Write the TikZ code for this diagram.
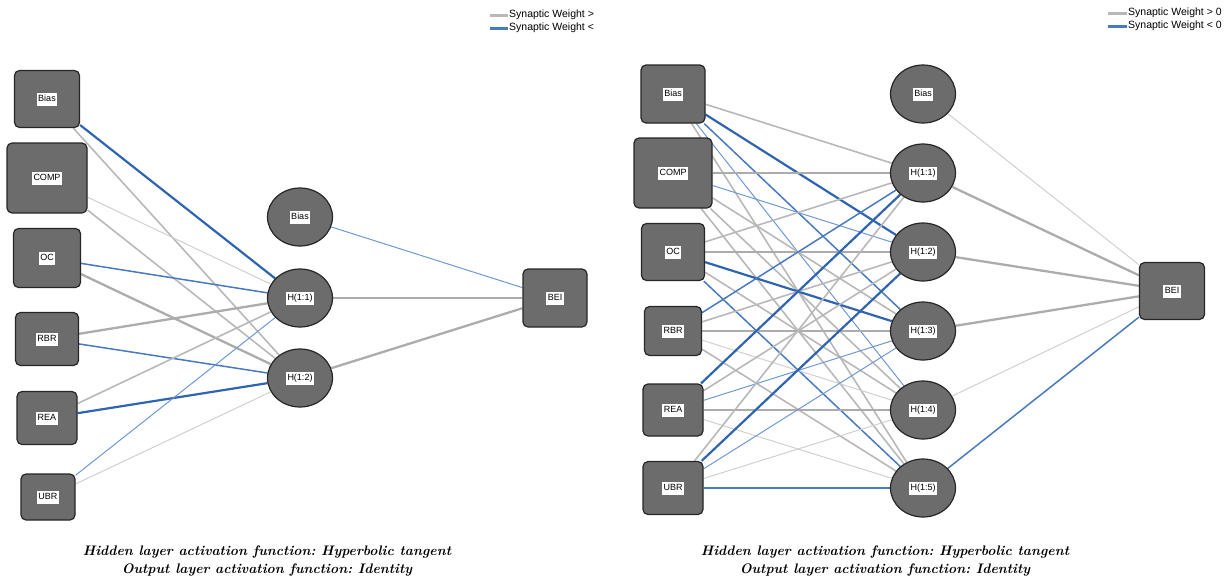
\documentclass[tikz,border=0pt]{standalone}
\usepackage{fontspec}
\newfontfamily\arial{Liberation Sans}
\usetikzlibrary{shapes.geometric}
\pgfdeclarelayer{bg}
\pgfsetlayers{bg,main}
\frenchspacing

\definecolor{nodegray}{RGB}{108,108,108}
\definecolor{posthin}{RGB}{208,208,208}
\definecolor{posmid}{RGB}{184,184,184}
\definecolor{posthick}{RGB}{172,172,172}
\definecolor{negthin}{RGB}{110,152,214}
\definecolor{negmid}{RGB}{72,122,192}
\definecolor{negthick}{RGB}{46,100,176}

% white tag holding a node's name
\newcommand{\tagbox}[1]{{\setlength{\fboxsep}{1.5pt}\colorbox{white}{\arial\fontsize{9}{10}\selectfont\strut #1}}}

\begin{document}
\begin{tikzpicture}[x=1pt,y=-1pt,
  inbox/.style={rectangle, draw=black!85, line width=1.2pt, fill=nodegray, rounded corners=5pt, inner sep=0pt},
  hid/.style={ellipse, draw=black!85, line width=1.2pt, fill=nodegray, minimum width=65pt, minimum height=58pt, inner sep=0pt},
  p1/.style={draw=posthin, line width=1pt},
  p2/.style={draw=posmid, line width=1.6pt},
  p3/.style={draw=posthick, line width=2.3pt},
  n1/.style={draw=negthin, line width=1pt},
  n2/.style={draw=negmid, line width=1.5pt},
  n3/.style={draw=negthick, line width=2.2pt},
  legtext/.style={anchor=west, inner sep=1pt, font=\arial\fontsize{10.5}{11}\selectfont},
  caption/.style={align=center, font=\fontsize{13.8}{17.5}\selectfont\bfseries\itshape}
]
\useasboundingbox (0,0) rectangle (1229,584);

% ---------------- first network ----------------
\node[inbox, minimum width=65pt, minimum height=57pt] (Lbias) at (47,99)  {\tagbox{Bias}};
\node[inbox, minimum width=80pt, minimum height=70pt] (Lcomp) at (47,178) {\tagbox{COMP}};
\node[inbox, minimum width=67pt, minimum height=59pt] (Loc)   at (47,258) {\tagbox{OC}};
\node[inbox, minimum width=63pt, minimum height=53pt] (Lrbr)  at (47,339) {\tagbox{RBR}};
\node[inbox, minimum width=60pt, minimum height=53pt] (Lrea)  at (47,418) {\tagbox{REA}};
\node[inbox, minimum width=54pt, minimum height=46pt] (Lubr)  at (48,497) {\tagbox{UBR}};

\node[hid] (LhB) at (300,217) {\tagbox{Bias}};
\node[hid] (Lh1) at (300,298) {\tagbox{H(1:1)}};
\node[hid] (Lh2) at (300,378) {\tagbox{H(1:2)}};

\node[inbox, minimum width=64pt, minimum height=58pt] (Lout) at (555,298) {\tagbox{BEI}};

\begin{pgfonlayer}{bg}
  \draw[n3] (Lbias) -- (Lh1);
  \draw[p2] (Lbias) -- (Lh2);
  \draw[p1] (Lcomp) -- (Lh1);
  \draw[p2] (Lcomp) -- (Lh2);
  \draw[n2] (Loc) -- (Lh1);
  \draw[p3] (Loc) -- (Lh2);
  \draw[p3] (Lrbr) -- (Lh1);
  \draw[n2] (Lrbr) -- (Lh2);
  \draw[p2] (Lrea) -- (Lh1);
  \draw[n3] (Lrea) -- (Lh2);
  \draw[n1] (Lubr) -- (Lh1);
  \draw[p1] (Lubr) -- (Lh2);
  \draw[n1] (LhB) -- (Lout);
  \draw[p3] (Lh1) -- (Lout);
  \draw[p3] (Lh2) -- (Lout);
\end{pgfonlayer}

% legend
\coordinate (lgLa1) at (490,15); \coordinate (lgLb1) at (508,15);
\coordinate (lgLa2) at (490,28); \coordinate (lgLb2) at (508,28);
\draw[draw=posmid, line width=3pt] (lgLa1) -- (lgLb1);
\draw[draw=negmid, line width=3pt] (lgLa2) -- (lgLb2);
\node[legtext] (lgLt1) at (lgLb1) {Synaptic Weight >};
\node[legtext] (lgLt2) at (lgLb2) {Synaptic Weight <};

\node[caption] (capL) at (267,561) {Hidden layer activation function: Hyperbolic tangent\\Output layer activation function: Identity};

% ---------------- second network ----------------
\node[inbox, minimum width=64pt, minimum height=58pt] (Rbias) at (673,94)  {\tagbox{Bias}};
\node[inbox, minimum width=78pt, minimum height=70pt] (Rcomp) at (673,173) {\tagbox{COMP}};
\node[inbox, minimum width=63pt, minimum height=57pt] (Roc)   at (673,252) {\tagbox{OC}};
\node[inbox, minimum width=57pt, minimum height=49pt] (Rrbr)  at (673,331) {\tagbox{RBR}};
\node[inbox, minimum width=60pt, minimum height=52pt] (Rrea)  at (673,410) {\tagbox{REA}};
\node[inbox, minimum width=60pt, minimum height=53pt] (Rubr)  at (673,488) {\tagbox{UBR}};

\node[hid] (RhB) at (923,94)  {\tagbox{Bias}};
\node[hid] (Rh1) at (923,173) {\tagbox{H(1:1)}};
\node[hid] (Rh2) at (923,252) {\tagbox{H(1:2)}};
\node[hid] (Rh3) at (923,331) {\tagbox{H(1:3)}};
\node[hid] (Rh4) at (923,410) {\tagbox{H(1:4)}};
\node[hid] (Rh5) at (923,488) {\tagbox{H(1:5)}};

\node[inbox, minimum width=65pt, minimum height=57pt] (Rout) at (1172,291) {\tagbox{BEI}};

\begin{pgfonlayer}{bg}
  \draw[p2] (Rbias) -- (Rh1);
  \draw[n3] (Rbias) -- (Rh2);
  \draw[n2] (Rbias) -- (Rh3);
  \draw[n1] (Rbias) -- (Rh4);
  \draw[p2] (Rbias) -- (Rh5);
  \draw[p3] (Rcomp) -- (Rh1);
  \draw[n1] (Rcomp) -- (Rh2);
  \draw[p2] (Rcomp) -- (Rh3);
  \draw[p2] (Rcomp) -- (Rh4);
  \draw[p2] (Rcomp) -- (Rh5);
  \draw[p2] (Roc) -- (Rh1);
  \draw[p3] (Roc) -- (Rh2);
  \draw[n3] (Roc) -- (Rh3);
  \draw[p2] (Roc) -- (Rh4);
  \draw[n2] (Roc) -- (Rh5);
  \draw[n2] (Rrbr) -- (Rh1);
  \draw[p2] (Rrbr) -- (Rh2);
  \draw[p3] (Rrbr) -- (Rh3);
  \draw[p1] (Rrbr) -- (Rh4);
  \draw[p2] (Rrbr) -- (Rh5);
  \draw[n3] (Rrea) -- (Rh1);
  \draw[p2] (Rrea) -- (Rh2);
  \draw[n1] (Rrea) -- (Rh3);
  \draw[p3] (Rrea) -- (Rh4);
  \draw[p1] (Rrea) -- (Rh5);
  \draw[p2] (Rubr) -- (Rh1);
  \draw[n3] (Rubr) -- (Rh2);
  \draw[n1] (Rubr) -- (Rh3);
  \draw[p1] (Rubr) -- (Rh4);
  \draw[n2] (Rubr) -- (Rh5);
  \draw[p1] (RhB) -- (Rout);
  \draw[p3] (Rh1) -- (Rout);
  \draw[p3] (Rh2) -- (Rout);
  \draw[p3] (Rh3) -- (Rout);
  \draw[p1] (Rh4) -- (Rout);
  \draw[n2] (Rh5) -- (Rout);
\end{pgfonlayer}

% legend
\coordinate (lgRa1) at (1108,13); \coordinate (lgRb1) at (1127,13);
\coordinate (lgRa2) at (1108,26); \coordinate (lgRb2) at (1127,26);
\draw[draw=posmid, line width=3pt] (lgRa1) -- (lgRb1);
\draw[draw=negmid, line width=3pt] (lgRa2) -- (lgRb2);
\node[legtext] (lgRt1) at (lgRb1) {Synaptic Weight > 0};
\node[legtext] (lgRt2) at (lgRb2) {Synaptic Weight < 0};

\node[caption] (capR) at (885,561) {Hidden layer activation function: Hyperbolic tangent\\Output layer activation function: Identity};
\end{tikzpicture}
\end{document}
